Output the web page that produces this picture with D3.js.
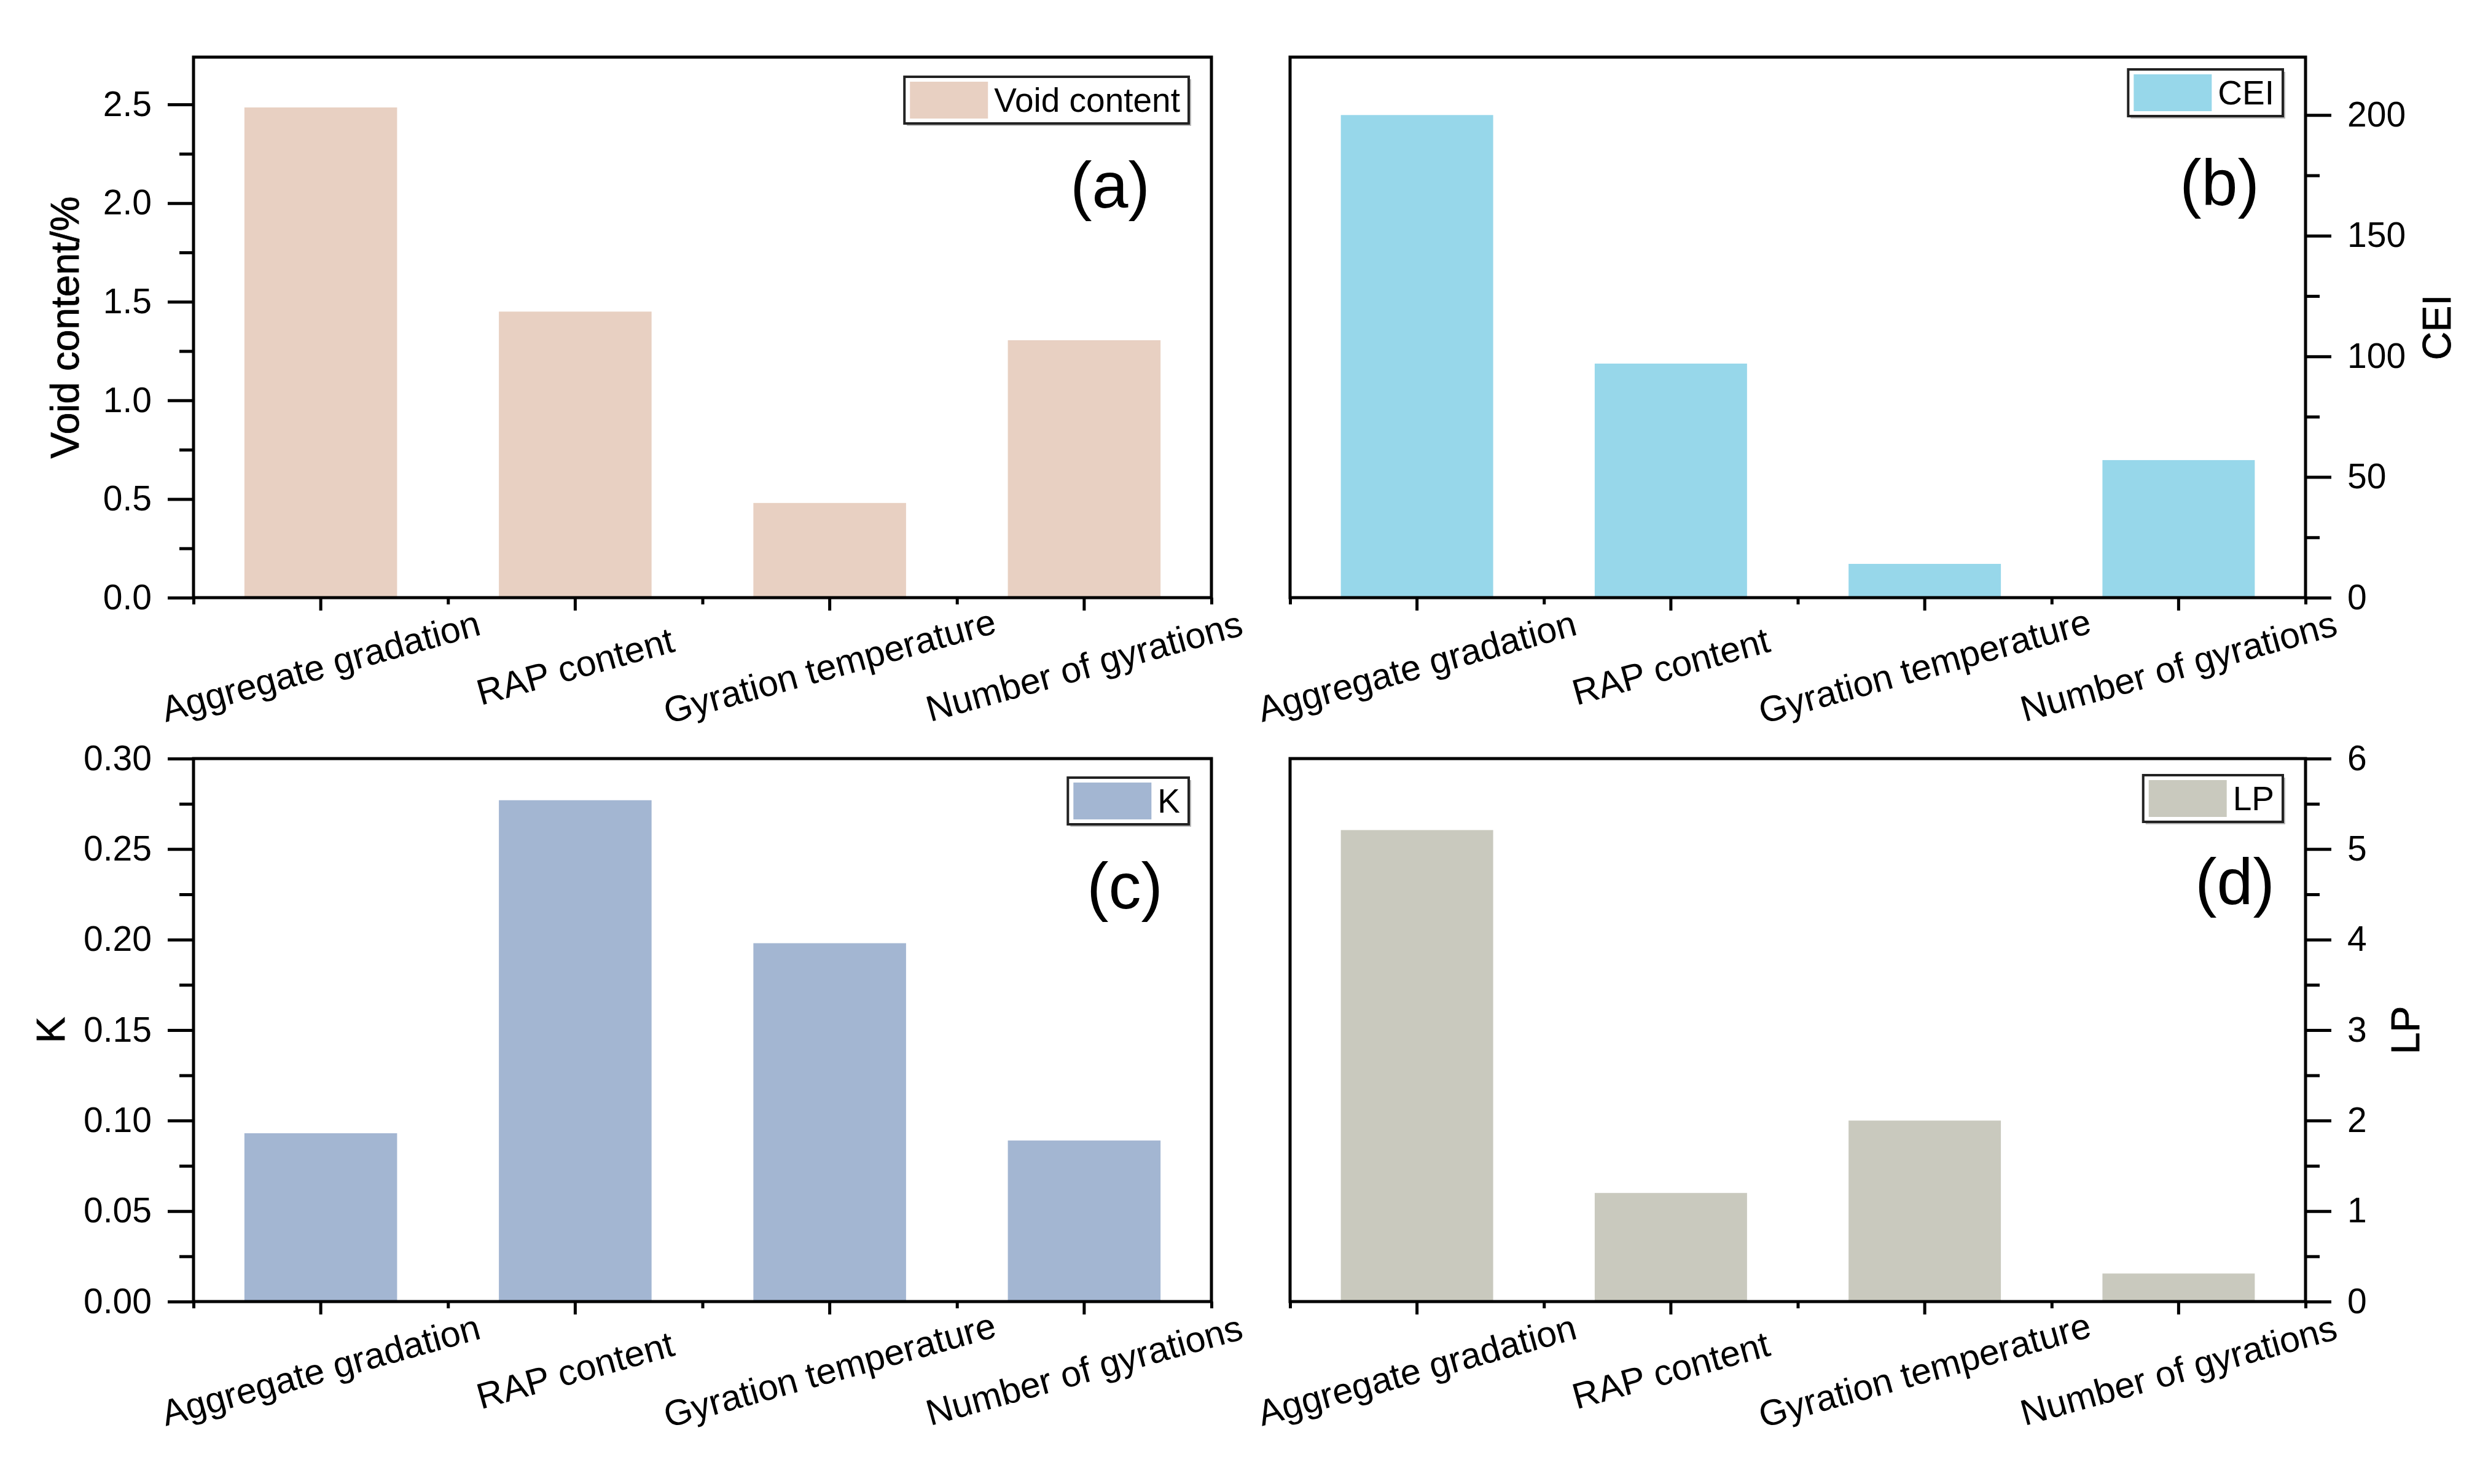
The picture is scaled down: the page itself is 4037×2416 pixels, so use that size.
<!DOCTYPE html>
<html>
<head>
<meta charset="utf-8">
<script src="https://cdn.jsdelivr.net/npm/d3@7"></script>
<style>
  body { margin: 0; background: #fff; }
  text { font-family: "Liberation Sans", Arial, sans-serif; fill: #000; }
</style>
</head>
<body>
<script>
// dati
const categories = ["Aggregate gradation", "RAP content", "Gyration temperature", "Number of gyrations"];
const voidContent = [2.485, 1.45, 0.48, 1.305];
const ceiValues = [200, 97, 14, 57];
const kValues = [0.093, 0.277, 0.198, 0.089];
const lpValues = [5.21, 1.2, 2.0, 0.31];

const voidTicks = [0, 0.5, 1.0, 1.5, 2.0, 2.5];
const ceiTicks = [0, 50, 100, 150, 200];
const kTicks = [0, 0.05, 0.10, 0.15, 0.20, 0.25, 0.30];
const lpTicks = [0, 1, 2, 3, 4, 5, 6];

const W = 4037, H = 2416;

var svg = d3.select("body")
  .append("svg")
  .attr("width", W)
  .attr("height", H)
  .style("background-color", "#fff");

// configurazione dei quattro pannelli
const panels = [
  { tag: "(a)", values: voidContent, ticks: voidTicks, max: 2.74, minor: 0.25, fmt: ".1f",
    color: "#E8D0C2", name: "Void content", title: "Void content/%", side: "left",
    left: 315, right: 1972, top: 93, bottom: 973, titleX: 106, legTop: 125, tagX: 1807, tagY: 338 },
  { tag: "(b)", values: ceiValues, ticks: ceiTicks, max: 224, minor: 25, fmt: "d",
    color: "#97D7EA", name: "CEI", title: "CEI", side: "right",
    left: 2100, right: 3753, top: 93, bottom: 973, titleX: 3967, legTop: 113, tagX: 3613, tagY: 334 },
  { tag: "(c)", values: kValues, ticks: kTicks, max: 0.30, minor: 0.025, fmt: ".2f",
    color: "#A3B6D2", name: "K", title: "K", side: "left",
    left: 315, right: 1972, top: 1235, bottom: 2119, titleX: 83, legTop: 1266, tagX: 1831, tagY: 1479 },
  { tag: "(d)", values: lpValues, ticks: lpTicks, max: 6, minor: 0.5, fmt: "d",
    color: "#C9C9BE", name: "LP", title: "LP", side: "right",
    left: 2100, right: 3753, top: 1235, bottom: 2119, titleX: 3916, legTop: 1262, tagX: 3638, tagY: 1472 }
];

const lineW = 5;

function drawPanel(p) {
  let g = svg.append("g");

  let x = d3.scaleBand()
    .domain(categories)
    .range([p.left, p.right])
    .paddingInner(0.4)
    .paddingOuter(0.2);

  let y = d3.scaleLinear()
    .domain([0, p.max])
    .range([p.bottom, p.top]);

  // barre
  g.selectAll("rect.bar")
    .data(p.values)
    .enter()
    .append("rect")
    .attr("class", "bar")
    .attr("x", (d, i) => x(categories[i]))
    .attr("y", d => y(d))
    .attr("width", x.bandwidth())
    .attr("height", d => y(0) - y(d))
    .attr("fill", p.color);

  // cornice
  g.append("rect")
    .attr("x", p.left)
    .attr("y", p.top)
    .attr("width", p.right - p.left)
    .attr("height", p.bottom - p.top)
    .attr("fill", "none")
    .attr("stroke", "#000")
    .attr("stroke-width", lineW);

  // asse y, tacche minori
  let minorVals = d3.range(0, p.max + 1e-9, p.minor).filter(v => !p.ticks.some(t => Math.abs(t - v) < 1e-9));
  let axisX = p.side === "left" ? p.left : p.right;
  let mk = p.side === "left" ? d3.axisLeft : d3.axisRight;

  let minorAxis = g.append("g")
    .attr("transform", "translate(" + axisX + ",0)")
    .call(mk(y).tickValues(minorVals).tickSize(23).tickSizeOuter(0).tickFormat(""));

  let majorAxis = g.append("g")
    .attr("transform", "translate(" + axisX + ",0)")
    .call(mk(y).tickValues(p.ticks).tickSize(42).tickSizeOuter(0).tickPadding(26)
      .tickFormat(d3.format(p.fmt)));

  // asse x
  let centers = d3.scaleLinear().domain([0, 4]).range([p.left, p.right]);
  let xMinor = g.append("g")
    .attr("transform", "translate(0," + p.bottom + ")")
    .call(d3.axisBottom(centers).tickValues([0, 1, 2, 3, 4]).tickSize(11).tickSizeOuter(0).tickFormat(""));

  let xMajor = g.append("g")
    .attr("transform", "translate(0," + p.bottom + ")")
    .call(d3.axisBottom(x).tickSize(21).tickSizeOuter(0).tickFormat(""));

  [minorAxis, majorAxis, xMinor, xMajor].forEach(a => {
    a.select(".domain").remove();
    a.selectAll("line").attr("stroke", "#000").attr("stroke-width", lineW);
  });
  majorAxis.selectAll("text")
    .style("font-size", "57px")
    .attr("fill", "#000");

  // etichette categorie ruotate
  categories.forEach(function (c) {
    let cx = x(c) + x.bandwidth() / 2;
    let cy = p.bottom + 112;
    g.append("text")
      .attr("x", cx)
      .attr("y", cy)
      .attr("text-anchor", "middle")
      .attr("dominant-baseline", "central")
      .attr("transform", "rotate(-15.5," + cx + "," + cy + ")")
      .style("font-size", "59px")
      .text(c);
  });

  // titolo asse
  let ty = (p.top + p.bottom) / 2;
  g.append("text")
    .attr("x", p.titleX)
    .attr("y", ty)
    .attr("text-anchor", "middle")
    .attr("dominant-baseline", "central")
    .attr("transform", "rotate(-90," + p.titleX + "," + ty + ")")
    .style("font-size", "64px")
    .style("stroke", "#000")
    .style("stroke-width", 0.8)
    .text(p.title);

  // etichetta pannello
  g.append("text")
    .attr("x", p.tagX)
    .attr("y", p.tagY)
    .attr("text-anchor", "middle")
    .style("font-size", "106px")
    .text(p.tag);

  // legenda
  let legRight = p.right - 37;
  let legH = 76;
  let leg = g.append("g");
  let shadow = leg.append("rect");
  let box = leg.append("rect");
  let label = leg.append("text")
    .attr("y", p.legTop + legH / 2)
    .attr("dominant-baseline", "central")
    .style("font-size", "55px")
    .text(p.name);
  let tw = label.node().getComputedTextLength();
  let swW = 127;
  let legW = 9 + swW + 10 + tw + 14;
  let legL = legRight - legW;
  label.attr("x", legL + 9 + swW + 10);

  shadow.attr("x", legL + 4).attr("y", p.legTop + 4)
    .attr("width", legW).attr("height", legH)
    .attr("fill", "#b8b8b8");
  box.attr("x", legL).attr("y", p.legTop)
    .attr("width", legW).attr("height", legH)
    .attr("fill", "#fff")
    .attr("stroke", "#222")
    .attr("stroke-width", 4);
  leg.append("rect")
    .attr("x", legL + 9)
    .attr("y", p.legTop + 8)
    .attr("width", swW)
    .attr("height", legH - 16)
    .attr("fill", p.color);
}

panels.forEach(drawPanel);
</script>
</body>
</html>
